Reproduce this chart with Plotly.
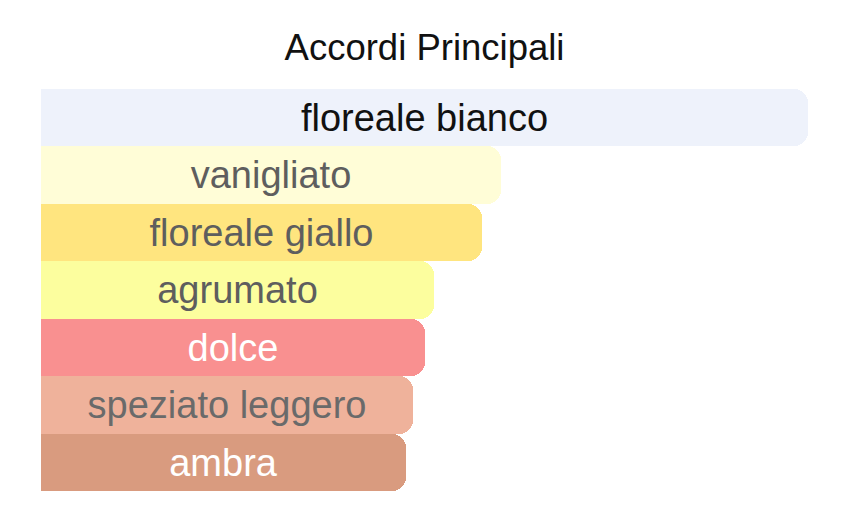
import plotly.graph_objects as go

# Accords, top to bottom, with their relative strength (percent of the strongest)
accords = ["floreale bianco", "vanigliato", "floreale giallo", "agrumato",
           "dolce", "speziato leggero", "ambra"]
strength = [100, 60.0, 57.5, 51.2, 50.1, 48.5, 47.6]
bar_colors = ["#EEF2FB", "#FFFDD7", "#FFE57F", "#FCFE9E",
              "#F99090", "#EFB29B", "#D99B7F"]
text_colors = ["#111111", "#5E5E5E", "#5E5E5E", "#5E5E5E",
               "#FFFFFF", "#6A6A6A", "#FFFFFF"]

FONT = "Helvetica Neue, Helvetica, Liberation Sans, Arial, sans-serif"

fig = go.Figure()

fig.add_trace(go.Bar(
    x=strength,
    y=accords,
    orientation="h",
    text=accords,
    textposition="inside",
    insidetextanchor="middle",
    textangle=0,
    textfont=dict(family=FONT, size=38, color=text_colors),
    marker=dict(color=bar_colors, line=dict(width=0), cornerradius=14),
    hoverinfo="skip",
))

# the page body adds an 8px offset, so margins are shifted to compensate
fig.update_layout(
    width=866,
    height=526,
    margin=dict(l=33, r=66, t=81, b=43),
    paper_bgcolor="white",
    plot_bgcolor="white",
    bargap=0,
    showlegend=False,
    uniformtext=dict(minsize=38, mode="show"),
    title=dict(text="Accordi Principali", x=0.5, xref="paper",
               y=0.926, yref="container", yanchor="middle",
               font=dict(family=FONT, size=36.5, color="#111111")),
)
fig.update_xaxes(range=[0, 100], visible=False, fixedrange=True)
fig.update_yaxes(autorange="reversed", visible=False, fixedrange=True)

fig.write_html("out.html")
